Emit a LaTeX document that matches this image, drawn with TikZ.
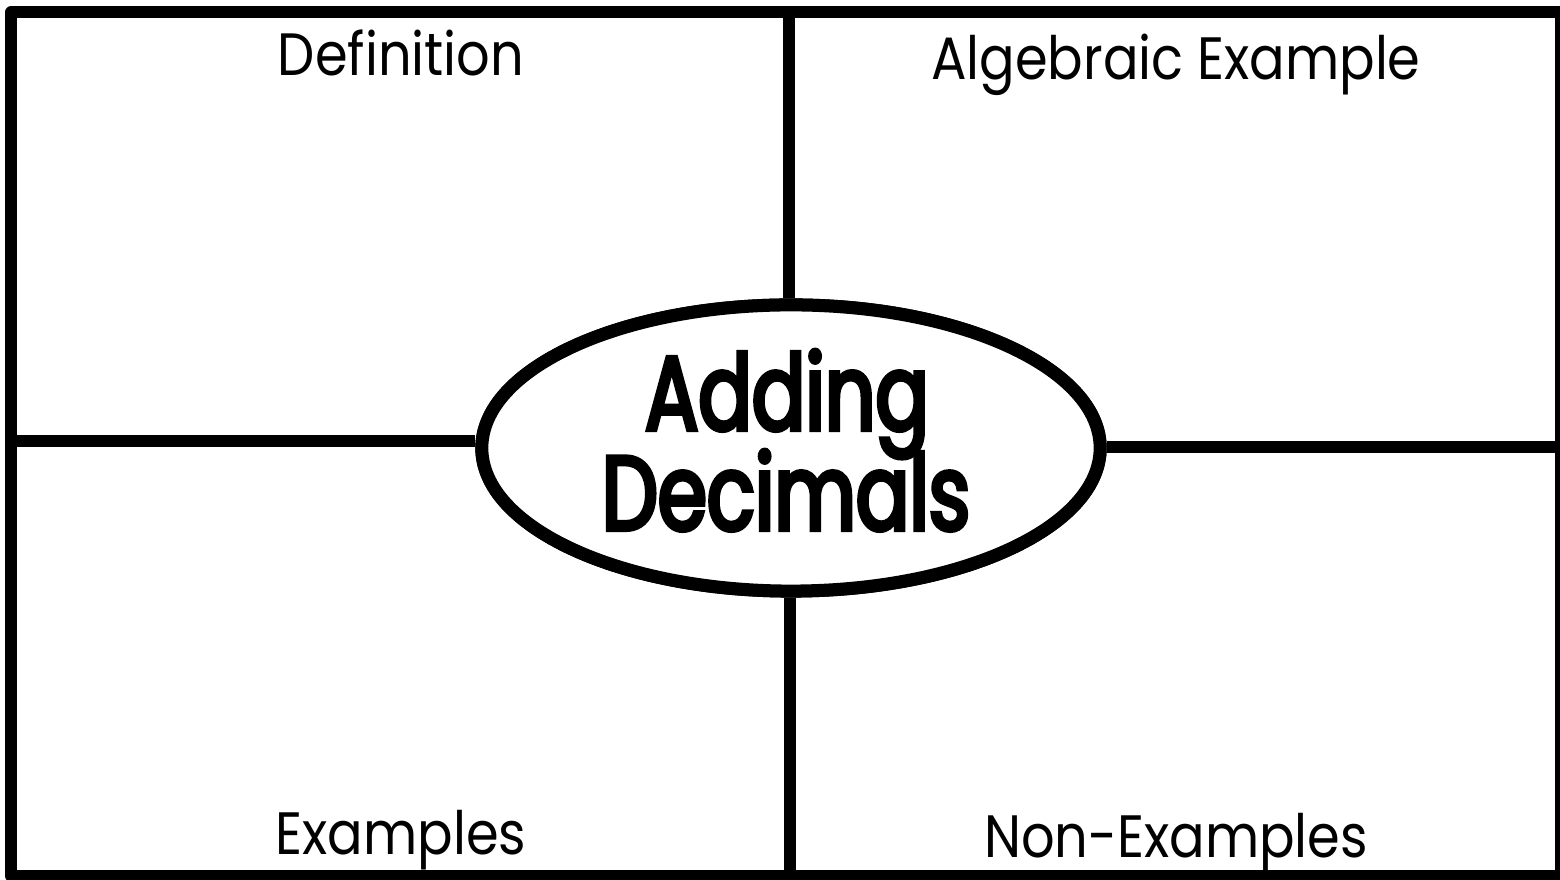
\documentclass[tikz,border=0pt]{standalone}
\usepackage{fontspec}
\setmainfont{Poppins}[FakeStretch=0.88]
\newfontfamily\hubfont{Poppins}[FakeStretch=0.75, FakeBold=4]
\usetikzlibrary{shapes.geometric, positioning}

\begin{document}
\begin{tikzpicture}[
  x=0.01cm, y=-0.01cm,
  ln/.style={draw=black, line width=0.12cm},
  hub/.style={ellipse, draw=black, line width=0.13cm, fill=white, inner sep=0pt,
              minimum width=6.18cm, minimum height=2.86cm},
  lbl/.style={anchor=base, inner sep=0pt, font=\fontsize{17}{20}\selectfont},
  big/.style={anchor=base, inner sep=0pt, align=center,
              font=\hubfont\fontsize{30}{28.5}\selectfont}
]
\useasboundingbox (0,0) rectangle (1560,880);

% ---- frame ----
\draw[ln, line join=round] (11,12.5) rectangle (1561,876);

% ---- ends of the cross ----
\coordinate (tp) at (789,12.5);
\coordinate (bt) at (790,876);
\coordinate (lf) at (11,441);
\coordinate (rt) at (1561,447);

% ---- centre ----
\node[hub] (ttl) at (791,448) {};
\draw[ln] (tp) -- (tp |- ttl.north);
\draw[ln] (bt) -- (bt |- ttl.south);
\draw[ln] (lf) -- (lf -| ttl.west);
\draw[ln] (rt) -- (rt -| ttl.east);
\node[hub] (hub) at (ttl) {};
\node[big] (add) at (787,430) {Adding};
\node[big] (dec) at (786,530) {Decimals};

% ---- corner labels ----
\node[lbl] (def) at (401,76)  {Definition};
\node[lbl] (alg) at (1176,80) {Algebraic Example};
\node[lbl] (ex)  at (401,855) {Examples};
\node[lbl] (nex) at (1176,858){Non-Examples};

\end{tikzpicture}
\end{document}
